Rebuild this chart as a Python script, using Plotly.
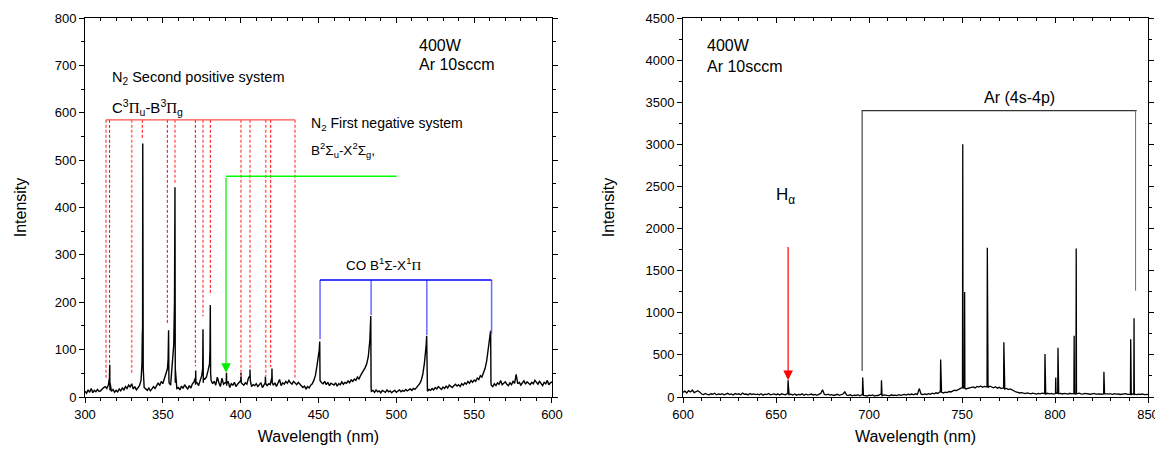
""" Optical emission spectra (N2 / CO region and Ar region) rebuilt with plotly """
import plotly.graph_objects as go

# ---- left panel: 300-600 nm, sampled every 1 nm ----
left_start = 300
left_base = [
    12, 8, 15, 10, 18, 9, 14, 11, 16, 12,
    13, 17, 20, 22, 18, 25, 14, 12, 16, 10,
    14, 11, 17, 13, 19, 15, 22, 18, 25, 21,
    28, 17, 22, 15, 20, 24, 35, 150, 20, 16,
    14, 19, 13, 17, 22, 18, 26, 30, 24, 33,
    28, 38, 45, 60, 30, 25, 60, 110, 30, 18,
    20, 15, 23, 18, 26, 21, 17, 24, 19, 28,
    32, 26, 30, 24, 35, 45, 30, 38, 42, 55,
    70, 35, 28, 33, 25, 42, 30, 22, 40, 27,
    30, 24, 33, 20, 28, 25, 31, 22, 27, 30,
    35, 28, 25, 30, 27, 40, 45, 22, 26, 24,
    28, 22, 25, 30, 20, 27, 30, 24, 28, 26,
    35, 25, 30, 22, 28, 37, 24, 30, 27, 33,
    29, 35, 30, 27, 33, 30, 26, 31, 28, 24,
    20, 23, 17, 22, 19, 25, 28, 35, 45, 65,
    85, 35, 30, 28, 33, 26, 31, 24, 29, 27,
    25, 30, 23, 28, 26, 32, 27, 31, 29, 34,
    30, 36, 33, 38, 35, 42, 38, 45, 50, 55,
    62, 70, 85, 120, 12, 14, 10, 15, 11, 13,
    9, 14, 12, 10, 15, 11, 13, 9, 12, 14,
    10, 13, 15, 11, 14, 12, 16, 13, 15, 17,
    14, 18, 16, 20, 22, 28, 35, 48, 70, 95,
    12, 16, 14, 18, 15, 20, 17, 22, 19, 16,
    21, 18, 23, 19, 25, 22, 20, 24, 27, 23,
    26, 22, 28, 25, 30, 27, 33, 29, 35, 31,
    36, 33, 40, 37, 45, 42, 50, 60, 75, 100,
    115, 25, 22, 28, 24, 30, 27, 35, 26, 29,
    32, 27, 24, 30, 26, 33, 29, 48, 28, 31,
    25, 30, 34, 27, 32, 29, 26, 31, 28, 35,
    30, 27, 33, 29, 24, 31, 28, 35, 26, 30,
    32,
]
left_peak_wl = [315.7, 315.9, 316.1, 336.6, 336.8, 337.1, 337.4, 353.4, 353.7, 353.9,
                357.5, 357.8, 358.0, 370.9, 371.1, 371.3, 375.6, 375.8, 376.0,
                380.3, 380.5, 380.7, 390.7, 390.9, 391.1, 400.1, 400.2, 400.4,
                405.8, 406.0, 406.2, 415.8, 415.9, 416.1, 419.9, 420.1, 420.3,
                450.5, 450.8, 450.95, 483.3, 483.6, 483.8, 519.2, 519.5, 519.7,
                560.3, 560.6, 560.8]
left_peak_int = [40, 68, 30, 70, 125, 535, 60, 80, 141, 40,
                 200, 443, 60, 40, 56, 30, 60, 143, 40,
                 100, 194, 50, 30, 51, 28, 35, 51, 30,
                 45, 58, 35, 30, 43, 28, 40, 60, 30,
                 100, 117, 40, 140, 171, 20, 110, 129, 15,
                 125, 140, 30]

# N2 second positive system markers (dashed, from 585 down to the line)
n2_level = 585
n2_light_wl = [313.5, 330.0, 357.8, 375.8, 400.2, 406.0, 416.1, 434.9]
n2_light_end = [38, 50, 450, 170, 43, 57, 43, 41]
n2_dark_wl = [315.8, 336.8, 352.9, 370.9, 380.5, 419.3]
n2_dark_end = [67, 545, 154, 65, 215, 63]

# N2 first negative system marker (green)
n2p_wl = [390.6, 500.2]
n2p_level = 466
n2p_tip = 51

# CO Angstrom system markers (blue)
co_level = 247
co_wl = [451.0, 483.8, 519.6, 561.2]
co_end = [122, 173, 131, 133]

# ---- right panel: 600-850 nm, sampled every 1 nm ----
right_start = 600
right_base = [
    55, 70, 48, 75, 60, 82, 52, 68, 74, 58,
    35, 28, 42, 30, 25, 38, 33, 45, 27, 36,
    30, 40, 26, 35, 44, 29, 37, 24, 41, 32,
    38, 27, 46, 31, 35, 25, 42, 30, 36, 28,
    33, 26, 39, 22, 34, 29, 41, 25, 30, 37,
    27, 35, 23, 38, 30, 26, 40, 28, 33, 24,
    36, 22, 31, 27, 38, 20, 33, 25, 29, 35,
    24, 30, 21, 35, 42, 85, 30, 26, 33, 22,
    28, 18, 25, 32, 20, 27, 35, 60, 22, 19,
    26, 15, 23, 18, 28, 14, 25, 20, 17, 12,
    22, 16, 25, 12, 20, 18, 30, 15, 24, 19,
    21, 14, 26, 18, 23, 16, 28, 20, 25, 30,
    22, 33, 27, 35, 25, 38, 30, 100, 34, 28,
    36, 30, 40, 33, 45, 38, 50, 42, 60, 55,
    48, 58, 52, 65, 60, 72, 80, 75, 92, 100,
    110, 105, 95, 100, 110, 115, 120, 108, 125, 118,
    130, 115, 125, 120, 112, 128, 118, 110, 122, 105,
    115, 100, 108, 95, 102, 88, 95, 80, 70, 60,
    55, 48, 52, 45, 40, 48, 42, 38, 45, 40,
    35, 42, 38, 45, 40, 36, 44, 38, 42, 35,
    40, 45, 38, 43, 36, 42, 39, 35, 44, 38,
    42, 36, 40, 45, 38, 35, 42, 37, 40, 33,
    38, 42, 35, 40, 37, 33, 41, 36, 39, 34,
    37, 32, 40, 35, 38, 30, 36, 33, 39, 31,
    35, 30, 38, 33, 28, 34, 30, 36, 29, 32,
    30,
]
right_peak_wl = [656.3, 656.45, 656.6, 696.45, 696.6, 696.75,
                 706.55, 706.7, 706.8, 706.9, 738.35, 738.5, 738.65,
                 750.25, 750.4, 750.55, 751.25, 751.4, 751.55,
                 763.45, 763.6, 763.75, 772.35, 772.5, 772.65,
                 794.45, 794.6, 794.75, 800.25, 800.4, 800.55, 801.45, 801.6, 801.75,
                 810.15, 810.3, 810.45, 811.25, 811.4, 811.55,
                 826.15, 826.3, 826.5, 826.65,
                 840.55, 840.7, 840.85, 842.35, 842.5, 842.65]
right_peak_int = [40, 200, 35, 30, 230, 25,
                  30, 200, 120, 25, 60, 446, 55,
                  110, 3000, 110, 105, 1246, 105,
                  120, 1772, 115, 105, 650, 100,
                  40, 510, 38, 40, 230, 42, 44, 585, 40,
                  40, 728, 38, 37, 1764, 40,
                  37, 300, 100, 36,
                  32, 685, 30, 33, 935, 30]

# Ar (4s-4p) bracket and H-alpha arrow
ar_wl = [696.3, 843.3]
ar_level = 3400
ar_end = [310, 1262]
ha_wl = 656.5
ha_top = 1800
ha_tip = 200

FONT = "Liberation Sans, Arial, sans-serif"
SERIF = "Liberation Serif"


def merge(start, base, peak_wl, peak_int):
    """ combine the 1 nm samples with the hand-read peak points """
    pts = [(start + i, v) for i, v in enumerate(base)]
    pts += list(zip(peak_wl, peak_int))
    pts.sort()
    return [p[0] for p in pts], [p[1] for p in pts]


def drops(wls, top, ends):
    """ vertical segments separated by None """
    xs, ys = [], []
    for w, e in zip(wls, ends):
        xs += [w, w, None]
        ys += [top, e, None]
    return xs, ys


fig = go.Figure()

lx, ly = merge(left_start, left_base, left_peak_wl, left_peak_int)
rx, ry = merge(right_start, right_base, right_peak_wl, right_peak_int)

fig.add_trace(go.Scatter(x=lx, y=ly, mode="lines", line=dict(color="black", width=1.4),
                         xaxis="x", yaxis="y"))
fig.add_trace(go.Scatter(x=rx, y=ry, mode="lines", line=dict(color="black", width=1.3),
                         xaxis="x2", yaxis="y2"))

# red dashed markers
dx, dy = drops(n2_light_wl, n2_level, n2_light_end)
fig.add_trace(go.Scatter(x=dx, y=dy, mode="lines", line=dict(color="#ff7070", width=1.6, dash="3px,2px"),
                         xaxis="x", yaxis="y"))
dx, dy = drops(n2_dark_wl, n2_level, n2_dark_end)
fig.add_trace(go.Scatter(x=dx, y=dy, mode="lines", line=dict(color="#ff0000", width=1, dash="3px,2px"),
                         xaxis="x", yaxis="y"))
all_n2 = n2_light_wl + n2_dark_wl
fig.add_trace(go.Scatter(x=[min(all_n2), max(all_n2)], y=[n2_level, n2_level], mode="lines",
                         line=dict(color="#ff5050", width=1.3), xaxis="x", yaxis="y"))

# green marker
fig.add_trace(go.Scatter(x=n2p_wl, y=[n2p_level, n2p_level], mode="lines",
                         line=dict(color="#00ff00", width=1.3), xaxis="x", yaxis="y"))

# blue CO markers
dx, dy = drops(co_wl, co_level, co_end)
fig.add_trace(go.Scatter(x=dx, y=dy, mode="lines", line=dict(color="#6a6aff", width=1.5),
                         xaxis="x", yaxis="y"))
fig.add_trace(go.Scatter(x=[co_wl[0], co_wl[-1]], y=[co_level, co_level], mode="lines",
                         line=dict(color="#0000ff", width=1.3), xaxis="x", yaxis="y"))

# Ar bracket
fig.add_trace(go.Scatter(x=[ar_wl[0], ar_wl[0], ar_wl[1] + 0.6], y=[ar_end[0], ar_level, ar_level],
                         mode="lines", line=dict(color="#333333", width=1.1), xaxis="x2", yaxis="y2"))
fig.add_trace(go.Scatter(x=[ar_wl[1], ar_wl[1]], y=[ar_level, ar_end[1]], mode="lines",
                         line=dict(color="#777777", width=1.1), xaxis="x2", yaxis="y2"))

# empty traces so the top tick axes exist
fig.add_trace(go.Scatter(x=[None], y=[None], xaxis="x3", yaxis="y"))
fig.add_trace(go.Scatter(x=[None], y=[None], xaxis="x4", yaxis="y2"))

tick_font = dict(family=FONT, size=13, color="black")
title_font = dict(family=FONT, size=16, color="black")
common = dict(showgrid=False, zeroline=False, showline=True, linecolor="black", linewidth=1,
              ticks="outside", ticklen=5, tickwidth=1, tickcolor="black", tickfont=tick_font,
              automargin=False)
top = dict(showgrid=False, zeroline=False, showline=False, ticks="inside", ticklen=5,
           tickwidth=1, tickcolor="black", showticklabels=False, side="top", automargin=False)

# the page body adds an 8px offset, so margins are shifted by that amount
fig.update_layout(
    width=1155, height=444,
    margin=dict(l=77, r=15, t=10, b=55),
    paper_bgcolor="white", plot_bgcolor="white",
    showlegend=False,
    font=dict(family=FONT, color="black"),
    xaxis=dict(domain=[0, 0.4393], range=[300, 600], dtick=50, mirror=True,
               minor=dict(dtick=10, ticks="outside", ticklen=3, tickcolor="black"),
               title=dict(text="Wavelength (nm)", font=title_font, standoff=10), **common),
    yaxis=dict(domain=[0, 1], range=[0, 800], dtick=100, mirror="ticks",
               minor=dict(dtick=50, ticks="outside", ticklen=3, tickcolor="black"),
               title=dict(text="Intensity", font=title_font, standoff=24), **common),
    xaxis2=dict(domain=[0.5626, 1], range=[600, 850], dtick=50, mirror=True, anchor="y2",
                minor=dict(dtick=10, ticks="outside", ticklen=3, tickcolor="black"),
                ticklabeloverflow="allow",
                title=dict(text="Wavelength (nm)", font=title_font, standoff=10), **common),
    yaxis2=dict(domain=[0, 1], range=[0, 4500], dtick=500, mirror="ticks", anchor="x2",
                minor=dict(dtick=250, ticks="outside", ticklen=3, tickcolor="black"),
                title=dict(text="Intensity", font=title_font, standoff=26), **common),
    xaxis3=dict(overlaying="x", anchor="y", range=[300, 600], dtick=50,
                minor=dict(dtick=10, ticks="inside", ticklen=3, tickcolor="black"), **top),
    xaxis4=dict(overlaying="x2", anchor="y2", range=[600, 850], dtick=50,
                minor=dict(dtick=10, ticks="inside", ticklen=3, tickcolor="black"), **top),
)

pi = f'<span style="font-family:{SERIF}">Π</span>'
notes = [
    ("x", "y", 316, 673, "N<sub>2</sub> Second positive system", 14.5, "left"),
    ("x", "y", 316, 612, f"C<sup>3</sup>{pi}<sub>u</sub>-B<sup>3</sup>{pi}<sub>g</sub>", 15, "left"),
    ("x", "y", 444, 576, "N<sub>2</sub> First negative system", 14, "left"),
    ("x", "y", 444, 522, "B<sup>2</sup>Σ<sub>u</sub>-X<sup>2</sup>Σ<sub>g</sub>,", 13.5, "left"),
    ("x", "y", 513, 743, "400W", 16, "left"),
    ("x", "y", 513, 701, "Ar 10sccm", 16, "left"),
    ("x", "y", 492, 281, f"CO B<sup>1</sup>Σ-X<sup>1</sup>{pi}", 13.5, "center"),
    ("x2", "y2", 612, 4178, "400W", 16, "left"),
    ("x2", "y2", 612, 3927, "Ar 10sccm", 16, "left"),
    ("x2", "y2", 781, 3560, "Ar (4s-4p)", 16, "center"),
    ("x2", "y2", 655, 2390, "H<sub>α</sub>", 17, "center"),
]
for xr, yr, x, y, text, size, anchor in notes:
    fig.add_annotation(x=x, y=y, xref=xr, yref=yr, text=text, showarrow=False,
                       xanchor=anchor, yanchor="middle",
                       font=dict(family=FONT, size=size, color="black"))

# arrows
fig.add_annotation(x=n2p_wl[0], y=n2p_tip, ax=n2p_wl[0], ay=n2p_level, xref="x", yref="y",
                   axref="x", ayref="y", showarrow=True, arrowhead=2, arrowsize=1.6,
                   arrowwidth=1.2, arrowcolor="#00ee00", text="")
fig.add_annotation(x=ha_wl, y=ha_tip, ax=ha_wl, ay=ha_top, xref="x2", yref="y2",
                   axref="x2", ayref="y2", showarrow=True, arrowhead=2, arrowsize=1.6,
                   arrowwidth=1.2, arrowcolor="#ff0000", text="")

fig.write_html("out.html")
